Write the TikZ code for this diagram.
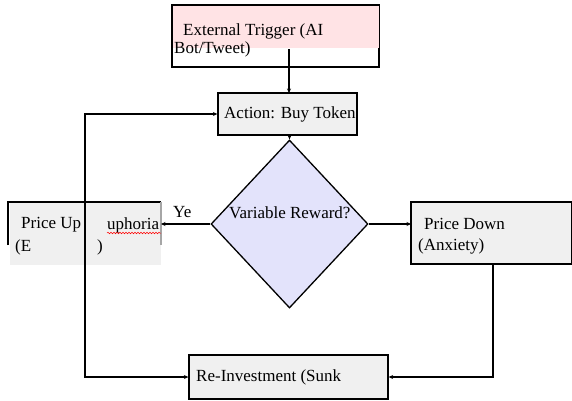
\documentclass[tikz,border=0pt]{standalone}
\usepackage{fontspec}
\setmainfont{Liberation Serif}
\usetikzlibrary{shapes.geometric,arrows.meta,decorations.pathmorphing}
\definecolor{pinkfill}{HTML}{FFE3E5}
\definecolor{boxgray}{HTML}{F0F0F0}
\definecolor{lav}{HTML}{E3E3FB}
\begin{document}
\begin{tikzpicture}[x=1pt,y=-1pt,
  every node/.style={font=\fontsize{17}{19}\selectfont},
  txt/.style={inner sep=0pt,anchor=west},
  boxg/.style={draw=black,line width=1.3pt,fill=boxgray,rectangle,inner sep=0pt},
  conn/.style={draw=black,line width=1.2pt,-{Stealth[length=4.5pt,width=4pt]}},
  plain/.style={draw=black,line width=1.3pt}]
\useasboundingbox[fill=white] (0,0) rectangle (572,400);
% External trigger
\node[draw=black,line width=1.3pt,rectangle,inner sep=0pt,minimum width=207pt,minimum height=62pt] (trig) at (275.5,36) {};
\fill[pinkfill] (173,6) rectangle (378.5,48);
\node[txt] (t1) at (183,31) {External Trigger (AI};
\node[txt] (t2) at (174,49) {Bot/Tweet)};
\coordinate (trigout) at (289,49);
% Action
\node[boxg,minimum width=139pt,minimum height=42pt] (action) at (287.5,114) {};
\node[txt] (at) at (224,114) {Action: Buy Token};
\coordinate (actin) at (289,93);
% Diamond
\node[diamond,draw=black,line width=1.3pt,fill=lav,inner sep=0pt,minimum width=157pt,minimum height=168pt] (dec) at (289.5,224) {};
\node[txt] (dt) at (229,213) {Variable Reward?};
% Price Up
\node[fill=boxgray,rectangle,inner sep=0pt,minimum width=151pt,minimum height=63pt] (pup) at (85.5,233.5) {};
\draw[plain] (8,245) -- (8,202) -- (161,202);
\draw[draw=gray!70,line width=1.3pt] (161,202) -- (161,245);
\node[txt] (pu1) at (21,225) {Price Up};
\node[txt] (pu2) at (107,225) {uphoria};
\node[txt] (pu3) at (15,247) {(E};
\node[txt] (pu4) at (97,247) {)};
\draw[red,line width=0.5pt,decorate,decoration={snake,amplitude=0.8pt,segment length=3pt}] (107,233) -- (161,233);
\coordinate (puin) at (161,224);
\node[txt] (ye) at (173,212) {Ye};
% Price Down
\node[boxg,minimum width=161pt,minimum height=62pt] (pdown) at (491.5,233) {};
\node[txt] (pd1) at (424,224) {Price Down};
\node[txt] (pd2) at (418,246) {(Anxiety)};
\coordinate (pdin) at (411,224);
\coordinate (pdout) at (493,264);
% Re-Investment
\node[boxg,minimum width=199pt,minimum height=44pt] (reinv) at (288.5,377) {};
\node[txt] (rt) at (196,377) {Re-Investment (Sunk};
% loop corner
\coordinate (lc) at (85,246);
% connectors
\draw[conn] (trigout) -- (actin);
\draw[conn] (action.south -| dec.north) -- (dec.north);
\draw[conn] (dec.west) -- (puin);
\draw[conn] (dec.east) -- (pdin);
\draw[conn] (pdout) |- (reinv.east);
\draw[conn] (lc) |- (action.west);
\draw[conn] (lc) |- (reinv.west);
\end{tikzpicture}
\end{document}
